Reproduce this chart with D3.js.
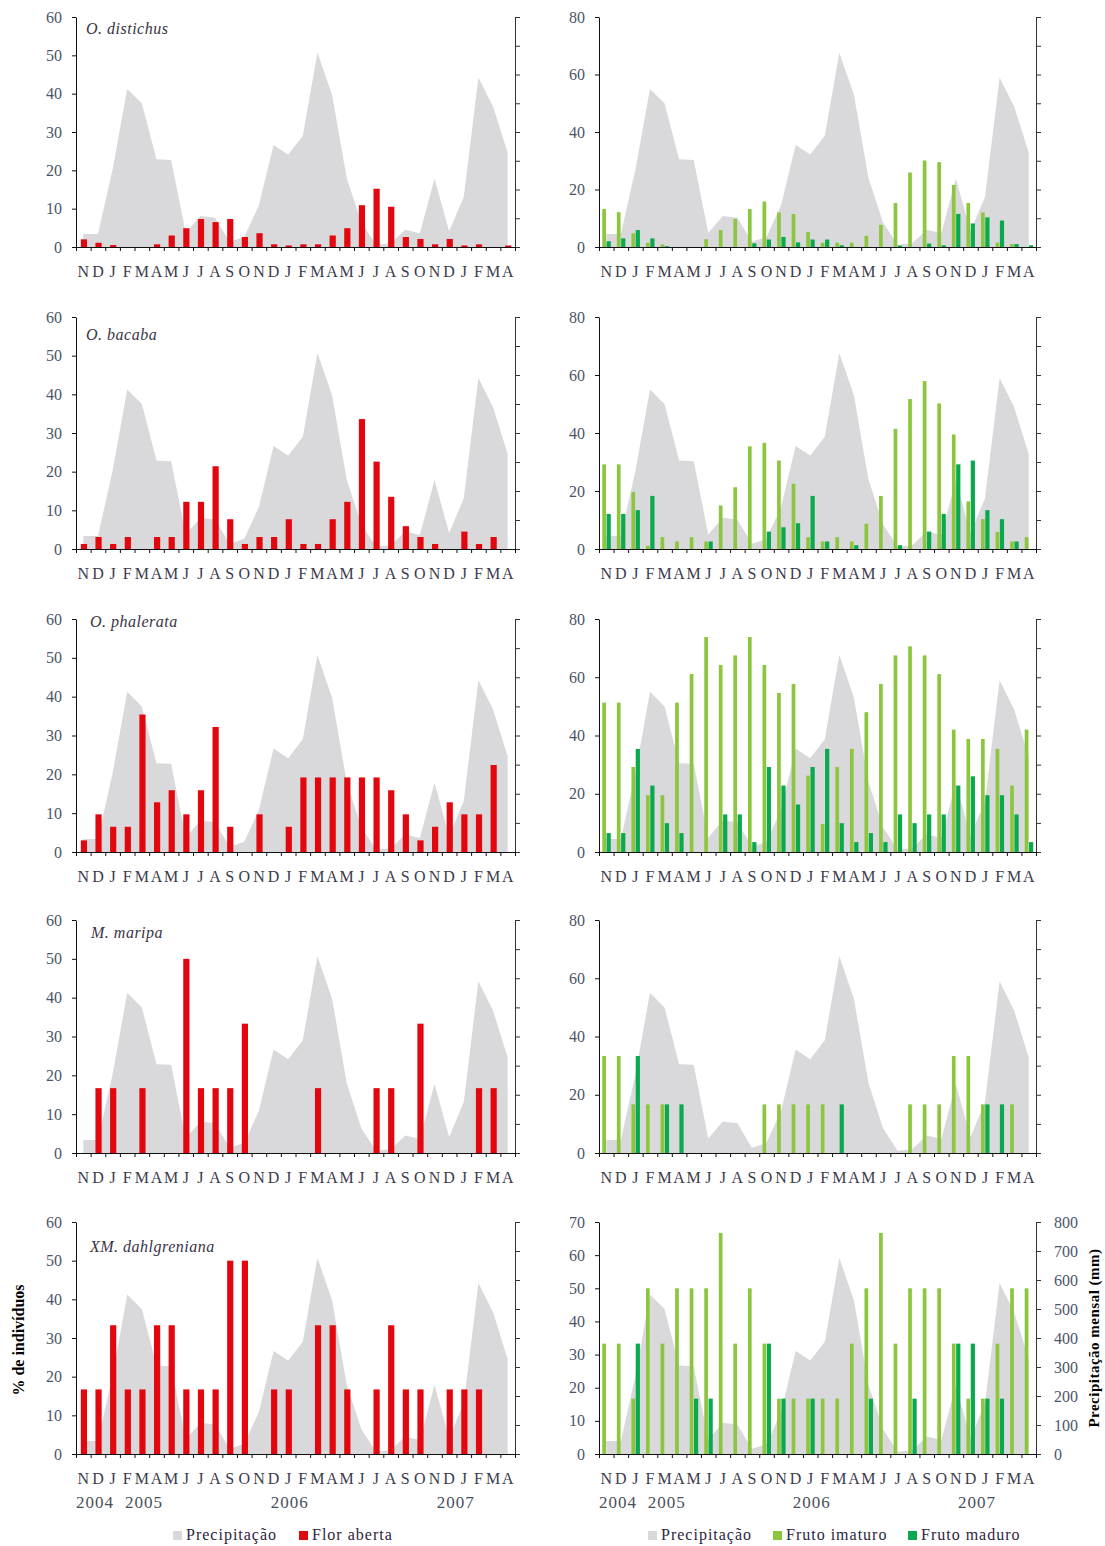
<!doctype html>
<html lang="pt">
<head>
<meta charset="utf-8">
<title>Fenologia e precipitação</title>
<script src="https://d3js.org/d3.v7.min.js"></script>
<style>
  body { margin: 0; background: #fff; }
  svg { display: block; }
</style>
</head>
<body>
<script>

// ---- dados ----
var months = ["N","D","J","F","M","A","M","J","J","A","S","O",
              "N","D","J","F","M","A","M","J","J","A","S","O",
              "N","D","J","F","M","A"];
var years = ["2004", "2005", "2006", "2007"];
var especies = ["O. distichus", "O. bacaba", "O. phalerata", "M. maripa", "XM. dahlgreniana"];

// precipitação mensal (mm)
var precipitacao = [45, 45, 270, 550, 500, 305, 303, 50, 108, 102, 18, 35,
                    145, 355, 322, 387, 676, 530, 240, 85, 8, 13, 60, 48,
                    238, 55, 175, 590, 489, 328];

// % de indivíduos com flor aberta
var florDistichus = [2.0, 1.1, 0.5, 0, 0, 0.7, 3.0, 4.9, 7.3, 6.5, 7.3, 2.6, 3.6, 0.7, 0.4,
                     0.7, 0.7, 3.0, 4.9, 10.9, 15.2, 10.5, 2.6, 2.1, 0.7, 2.1, 0.4, 0.7, 0, 0.4];
var florBacaba = [1.3, 3.1, 1.3, 3.1, 0, 3.1, 3.1, 12.2, 12.2, 21.4, 7.7, 1.3, 3.1, 3.1, 7.7,
                  1.3, 1.3, 7.7, 12.2, 33.6, 22.6, 13.5, 5.9, 3.1, 1.3, 0, 4.5, 1.3, 3.1, 0];
var florPhalerata = [3.0, 9.7, 6.5, 6.5, 35.4, 12.8, 15.9, 9.7, 15.9, 32.2, 6.5, 0, 9.7, 0, 6.5,
                     19.2, 19.2, 19.2, 19.2, 19.2, 19.2, 15.9, 9.7, 3.0, 6.5, 12.8, 9.7, 9.7, 22.4, 0];
var florMaripa = [0, 16.7, 16.7, 0, 16.7, 0, 0, 50, 16.7, 16.7, 16.7, 33.3, 0, 0, 0,
                  0, 16.7, 0, 0, 0, 16.7, 16.7, 0, 33.3, 0, 0, 0, 16.7, 16.7, 0];
var florDahlgreniana = [16.7, 16.7, 33.3, 16.7, 16.7, 33.3, 33.3, 16.7, 16.7, 16.7, 50, 50, 0, 16.7, 16.7,
                        0, 33.3, 33.3, 16.7, 0, 16.7, 33.3, 16.7, 16.7, 0, 16.7, 16.7, 16.7, 0, 0];

// % de indivíduos com fruto imaturo / maduro
var imaturoDistichus = [13.2, 12.1, 4.8, 1.5, 0.9, 0, 0, 2.7, 5.9, 9.8, 13.2, 15.8, 12.0, 11.5, 5.2,
                        1.5, 1.5, 1.5, 3.9, 7.7, 15.3, 25.9, 30.1, 29.5, 21.6, 15.3, 12.0, 1.5, 1.0, 0];
var maduroDistichus = [2.0, 3.0, 5.9, 3.0, 0.3, 0, 0, 0, 0, 0, 1.3, 2.6, 3.5, 1.6, 2.6,
                       2.6, 0.6, 0, 0, 0, 0.5, 0, 1.2, 0.6, 11.5, 8.2, 10.3, 9.2, 1.0, 0.6];
var imaturoBacaba = [29.2, 29.2, 19.7, 1.1, 4.1, 2.6, 4.1, 2.6, 15.0, 21.3, 35.4, 36.6, 30.5, 22.5, 4.1,
                     2.6, 4.1, 2.6, 8.7, 18.3, 41.4, 51.7, 57.9, 50.2, 39.5, 16.4, 10.3, 5.9, 2.6, 4.1];
var maduroBacaba = [12.1, 12.1, 13.4, 18.3, 0, 0, 0, 2.6, 0, 0, 0, 6.0, 7.5, 8.9, 18.3,
                    2.6, 0, 1.3, 0, 0, 1.3, 0, 6.0, 12.1, 29.2, 30.5, 13.4, 10.3, 2.6, 0];
var imaturoPhalerata = [51.3, 51.3, 29.2, 19.5, 19.5, 51.3, 61.1, 73.8, 64.2, 67.5, 73.8, 64.2, 54.6, 57.7, 26.2,
                        9.6, 29.2, 35.4, 48.0, 57.7, 67.5, 70.6, 67.5, 61.1, 42.0, 38.8, 38.8, 35.4, 22.8, 42.0];
var maduroPhalerata = [6.5, 6.5, 35.4, 22.8, 9.9, 6.5, 0, 0, 12.9, 12.9, 3.4, 29.2, 22.8, 16.3, 29.2,
                       35.4, 9.9, 3.4, 6.5, 3.4, 12.9, 9.9, 12.9, 12.9, 22.8, 26.0, 19.5, 19.5, 12.9, 3.4];
var imaturoMaripa = [33.3, 33.3, 16.7, 16.7, 16.7, 0, 0, 0, 0, 0, 0, 16.7, 16.7, 16.7, 16.7,
                     16.7, 0, 0, 0, 0, 0, 16.7, 16.7, 16.7, 33.3, 33.3, 16.7, 0, 16.7, 0];
var maduroMaripa = [0, 0, 33.3, 0, 16.7, 16.7, 0, 0, 0, 0, 0, 0, 0, 0, 0,
                    0, 16.7, 0, 0, 0, 0, 0, 0, 0, 0, 0, 16.7, 16.7, 0, 0];
var imaturoDahlgreniana = [33.3, 33.3, 16.7, 50, 33.3, 50, 50, 50, 66.7, 33.3, 50, 33.3, 16.7, 16.7, 16.7,
                           16.7, 16.7, 33.3, 50, 66.7, 33.3, 50, 50, 50, 33.3, 16.7, 16.7, 33.3, 50, 50];
var maduroDahlgreniana = [0, 0, 33.3, 0, 0, 0, 16.7, 16.7, 0, 0, 0, 33.3, 16.7, 0, 16.7,
                          0, 0, 0, 16.7, 0, 0, 16.7, 0, 0, 33.3, 33.3, 16.7, 16.7, 0, 0];

var maxFlor = [60, 60, 60, 60, 60];
var maxFruto = [80, 80, 80, 80, 70];
var passoFruto = [20, 20, 20, 20, 10];

// ---- layout ----
var width = 1105, height = 1546;
var fonte = "'Liberation Serif', 'Times New Roman', serif";
var cinza = "#d9d9dc", vermelho = "#e2070f", verdeClaro = "#8cc63f", verdeEscuro = "#0aa84f";
var corTick = "#4b5567", corMes = "#3b3b4b";

var rowTop = [17, 317, 619, 920, 1222];
var rowBottom = [247, 549, 852, 1153, 1454];
var colLeft = [76, 599], colRight = [515, 1036];
var nomePos = [[86, 34], [86, 340], [90, 627], [91, 938], [90, 1252]];
var anoPos = [1.3, 4.65, 14.6, 25.95];

var svg = d3.select("body").append("svg")
    .attr("width", width).attr("height", height)
    .attr("font-family", fonte);

var floresList = [florDistichus, florBacaba, florPhalerata, florMaripa, florDahlgreniana];
var imaturosList = [imaturoDistichus, imaturoBacaba, imaturoPhalerata, imaturoMaripa, imaturoDahlgreniana];
var madurosList = [maduroDistichus, maduroBacaba, maduroPhalerata, maduroMaripa, maduroDahlgreniana];

function panel(col, r, yMax, yStep, series, ultimo) {
    var x0 = colLeft[col], x1 = colRight[col], top = rowTop[r], bottom = rowBottom[r];
    var x = d3.scaleBand().domain(d3.range(months.length)).range([x0, x1]);
    var cx = function(i) { return x(i) + x.bandwidth() / 2; };
    var y = d3.scaleLinear().domain([0, yMax]).range([bottom, top]);
    var yp = d3.scaleLinear().domain([0, 800]).range([bottom, top]);
    var g = svg.append("g");

    g.append("path")
        .datum(precipitacao)
        .attr("d", d3.area().x(function(d, i) { return cx(i); }).y0(bottom).y1(function(d) { return yp(d); }))
        .attr("fill", cinza);

    series.forEach(function(s) {
        g.selectAll(null).data(s.values).enter().append("rect")
            .attr("x", function(d, i) { return cx(i) + s.dx; })
            .attr("width", s.w)
            .attr("y", function(d) { return y(d); })
            .attr("height", function(d) { return bottom - y(d); })
            .attr("fill", s.color);
    });

    // eixo esquerdo
    var ay = g.append("g").attr("transform", "translate(" + x0 + ",0)")
        .call(d3.axisLeft(y).tickValues(d3.range(0, yMax + 1, yStep))
              .tickSize(4).tickSizeOuter(0).tickPadding(10));
    ay.attr("font-family", fonte).attr("font-size", 16);
    ay.selectAll("text").attr("fill", corTick);
    ay.selectAll("line,path").attr("stroke", "#111");

    // eixo direito (precipitação)
    var ar = g.append("g").attr("transform", "translate(" + x1 + ",0)")
        .call(d3.axisRight(yp).tickValues(d3.range(0, 801, 100))
              .tickSize(5).tickSizeOuter(0).tickPadding(13)
              .tickFormat(ultimo ? d3.format("d") : ""));
    ar.attr("font-family", fonte).attr("font-size", 16);
    ar.selectAll("text").attr("fill", corTick);
    ar.selectAll("line,path").attr("stroke", "#333");

    // eixo x
    var xb = d3.scaleLinear().domain([0, months.length]).range([x0, x1]);
    var ax = g.append("g").attr("transform", "translate(0," + bottom + ")")
        .call(d3.axisBottom(xb).tickValues(d3.range(months.length + 1))
              .tickFormat("").tickSize(4).tickSizeOuter(0));
    ax.selectAll("line,path").attr("stroke", "#111");

    g.selectAll(null).data(months).enter().append("text")
        .attr("x", function(d, i) { return cx(i); })
        .attr("y", bottom + 30)
        .attr("text-anchor", "middle")
        .attr("font-size", 16)
        .attr("fill", corMes)
        .text(function(d) { return d; });

    if (r === 4) {
        var xl = d3.scaleLinear().domain([0, months.length]).range([x0, x1]);
        g.selectAll(null).data(years).enter().append("text")
            .attr("x", function(d, i) { return xl(anoPos[i]); })
            .attr("y", bottom + 54)
            .attr("text-anchor", "middle")
            .attr("font-size", 17)
            .attr("letter-spacing", 1)
            .attr("fill", "#4a4f5a")
            .text(function(d) { return d; });
    }
    return g;
}

for (var r = 0; r < especies.length; r++) {
    panel(0, r, maxFlor[r], 10, [
        { values: floresList[r], color: vermelho, dx: -2.5, w: 6.2 }
    ], false);
    panel(1, r, maxFruto[r], passoFruto[r], [
        { values: imaturosList[r], color: verdeClaro, dx: -4, w: 3.7 },
        { values: madurosList[r], color: verdeEscuro, dx: 0.3, w: 4.2 }
    ], r === 4);

    svg.append("text")
        .attr("x", nomePos[r][0]).attr("y", nomePos[r][1])
        .attr("font-size", 16).attr("font-style", "italic")
        .attr("letter-spacing", 0.5)
        .attr("fill", "#3a3344")
        .text(especies[r]);
}

// títulos dos eixos
svg.append("text")
    .attr("transform", "translate(24,1340) rotate(-90)")
    .attr("text-anchor", "middle")
    .attr("font-size", 16).attr("font-weight", "bold")
    .text("% de indivíduos");

svg.append("text")
    .attr("transform", "translate(1099,1338) rotate(-90)")
    .attr("text-anchor", "middle")
    .attr("font-size", 15).attr("font-weight", "bold")
    .attr("letter-spacing", 0.5)
    .text("Precipitação mensal (mm)");

// legendas
function legenda(itens) {
    itens.forEach(function(it) {
        svg.append("rect").attr("x", it.x).attr("y", 1531).attr("width", 9).attr("height", 9)
            .attr("fill", it.color);
        svg.append("text").attr("x", it.x + 13).attr("y", 1540)
            .attr("font-size", 16).attr("letter-spacing", 1)
            .attr("fill", "#2e2440")
            .text(it.label);
    });
}
legenda([
    { x: 173, color: cinza, label: "Precipitação" },
    { x: 299, color: vermelho, label: "Flor aberta" }
]);
legenda([
    { x: 648, color: cinza, label: "Precipitação" },
    { x: 773, color: verdeClaro, label: "Fruto imaturo" },
    { x: 908, color: verdeEscuro, label: "Fruto maduro" }
]);

</script>
</body>
</html>
